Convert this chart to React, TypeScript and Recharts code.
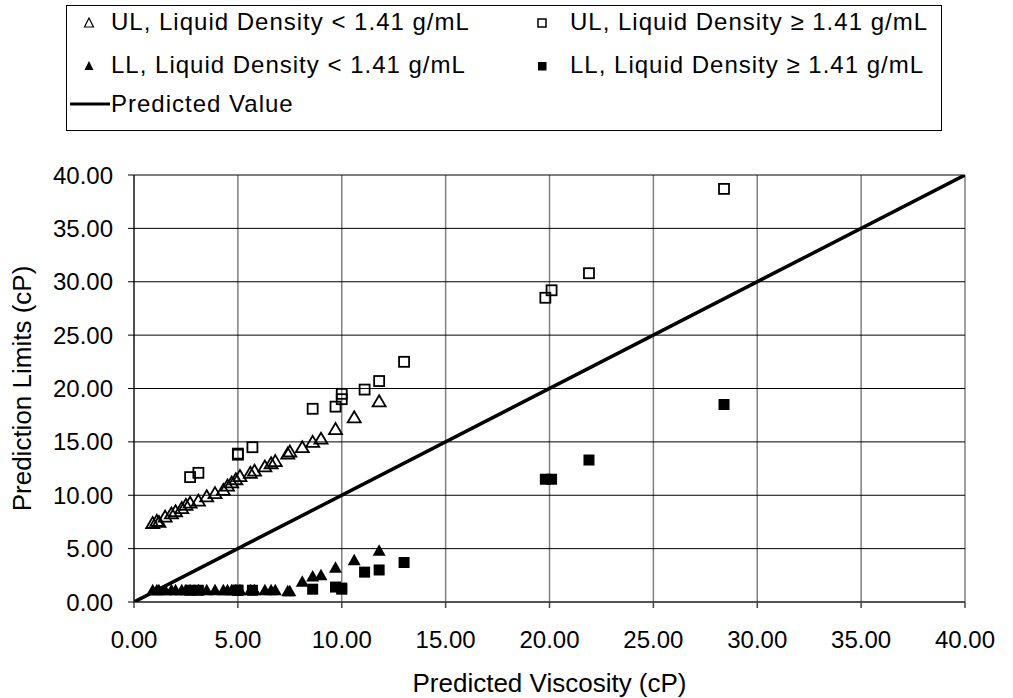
import React from "react";
import {
  ScatterChart,
  Scatter,
  XAxis,
  YAxis,
  CartesianGrid,
} from "recharts";

// density < 1.41 g/mL (triangles)
const LOW_X = [
  0.9, 1.1, 1.2, 1.5, 1.8, 2.0, 2.3, 2.5, 2.7, 3.1, 3.5, 3.9, 4.3, 4.5, 4.7,
  4.9, 5.1, 5.6, 5.8, 6.3, 6.6, 6.8, 7.4, 7.5, 8.1, 8.6, 9.0, 9.7, 10.6, 11.8,
];
const LOW_UL = [
  7.4, 7.6, 7.5, 8.0, 8.3, 8.5, 8.8, 9.1, 9.3, 9.5, 9.9, 10.2, 10.5, 10.9, 11.2,
  11.5, 11.8, 12.1, 12.3, 12.7, 13.0, 13.2, 13.9, 14.1, 14.5, 15.0, 15.3, 16.2,
  17.3, 18.8,
];
const LOW_LL = [
  1.1, 1.1, 1.1, 1.1, 1.1, 1.1, 1.1, 1.1, 1.1, 1.1, 1.1, 1.1, 1.1, 1.1, 1.1,
  1.1, 1.1, 1.1, 1.1, 1.1, 1.1, 1.1, 1.0, 1.0, 1.9, 2.4, 2.5, 3.2, 3.9, 4.8,
];

// density >= 1.41 g/mL (squares)
const HIGH_X = [
  2.7, 3.1, 5.0, 5.0, 5.7, 8.6, 9.7, 10.0, 10.0, 11.1, 11.8, 13.0, 19.8, 20.1,
  21.9, 28.4,
];
const HIGH_UL = [
  11.7, 12.1, 13.8, 13.9, 14.5, 18.1, 18.3, 19.5, 19.0, 19.9, 20.7, 22.5, 28.5,
  29.2, 30.8, 38.7,
];
const HIGH_LL = [
  1.1, 1.1, 1.1, 1.1, 1.1, 1.2, 1.4, 1.3, 1.2, 2.8, 3.0, 3.7, 11.5, 11.5, 13.3,
  18.5,
];

const PREDICTED = [0, 40];
const TICKS = [0, 5, 10, 15, 20, 25, 30, 35, 40];

const FONT = "'Liberation Sans', Arial, sans-serif";

const pts = (xs: number[], ys: number[]) => xs.map((x, i) => ({ x, y: ys[i] }));

function HollowTri(p: any) {
  const { cx, cy } = p;
  return (
    <path
      d={`M${cx},${cy - 6} L${cx + 6.5},${cy + 5} L${cx - 6.5},${cy + 5} Z`}
      fill="none"
      stroke="#000"
      strokeWidth={1.8}
    />
  );
}

function SolidTri(p: any) {
  const { cx, cy } = p;
  return (
    <path
      d={`M${cx},${cy - 6.5} L${cx + 6.5},${cy + 5} L${cx - 6.5},${cy + 5} Z`}
      fill="#000"
    />
  );
}

function HollowSq(p: any) {
  const { cx, cy } = p;
  return (
    <rect
      x={cx - 5}
      y={cy - 5}
      width={10}
      height={10}
      fill="none"
      stroke="#000"
      strokeWidth={1.8}
    />
  );
}

function SolidSq(p: any) {
  const { cx, cy } = p;
  return <rect x={cx - 5.5} y={cy - 5.5} width={11} height={11} fill="#000" />;
}

const NoDot = () => <g />;

function LegendBox() {
  const row: React.CSSProperties = {
    position: "absolute",
    fontSize: 24,
    lineHeight: "28px",
    letterSpacing: 1,
    whiteSpace: "nowrap",
  };
  return (
    <div
      style={{
        position: "absolute",
        left: 66,
        top: 5,
        width: 876,
        height: 126,
        border: "1px solid #000",
        boxSizing: "border-box",
        fontFamily: FONT,
        color: "#000",
      }}
    >
      <svg
        width={876}
        height={126}
        style={{ position: "absolute", left: 0, top: 0 }}
      >
        <path d="M22,12 L26.5,21 L17.5,21 Z" fill="none" stroke="#000" strokeWidth={1.2} />
        <rect x={471} y={13} width={8} height={8} fill="none" stroke="#000" strokeWidth={1.5} />
        <path d="M22,55 L26.5,64 L17.5,64 Z" fill="#000" />
        <rect x={471} y={56} width={8.5} height={8.5} fill="#000" />
        <line x1={3} y1={98} x2={43} y2={98} stroke="#000" strokeWidth={3} />
      </svg>
      <div style={{ ...row, left: 44, top: 2 }}>UL, Liquid Density &lt; 1.41 g/mL</div>
      <div style={{ ...row, left: 503, top: 2 }}>UL, Liquid Density ≥ 1.41 g/mL</div>
      <div style={{ ...row, left: 44, top: 45 }}>LL, Liquid Density &lt; 1.41 g/mL</div>
      <div style={{ ...row, left: 503, top: 45 }}>LL, Liquid Density ≥ 1.41 g/mL</div>
      <div style={{ ...row, left: 44, top: 84 }}>Predicted Value</div>
    </div>
  );
}

export default function App() {
  const tickStyle = { fontSize: 24, fill: "#000", fontFamily: FONT };
  return (
    <div
      style={{
        position: "absolute",
        left: 0,
        top: 0,
        width: 1013,
        height: 698,
        background: "#fff",
      }}
    >
      <ScatterChart
        width={1013}
        height={698}
        margin={{ top: 175, right: 48, bottom: 0, left: 0 }}
      >
        <CartesianGrid horizontal={false} stroke="#808080" strokeWidth={1.5} />
        <CartesianGrid vertical={false} stroke="#000" strokeWidth={1} />
        <XAxis
          type="number"
          dataKey="x"
          domain={[0, 40]}
          ticks={TICKS}
          tickFormatter={(v: number) => v.toFixed(2)}
          allowDataOverflow
          height={96}
          stroke="#444"
          strokeWidth={1.5}
          tick={tickStyle}
          tickSize={6}
          tickMargin={23}
          label={{
            value: "Predicted Viscosity (cP)",
            position: "insideBottom",
            offset: 6,
            style: { fontSize: 26, fill: "#000", fontFamily: FONT },
          }}
        />
        <YAxis
          type="number"
          dataKey="y"
          domain={[0, 40]}
          ticks={TICKS}
          tickFormatter={(v: number) => v.toFixed(2)}
          allowDataOverflow
          width={134}
          stroke="#000"
          tick={tickStyle}
          tickSize={6}
          tickMargin={15}
          label={{
            value: "Prediction Limits (cP)",
            angle: -90,
            position: "insideLeft",
            offset: 22,
            style: {
              fontSize: 26,
              fill: "#000",
              fontFamily: FONT,
              textAnchor: "middle",
            },
          }}
        />
        <Scatter
          data={pts(PREDICTED, PREDICTED)}
          line={{ stroke: "#000", strokeWidth: 3.5 }}
          shape={NoDot}
          isAnimationActive={false}
        />
        <Scatter data={pts(LOW_X, LOW_UL)} shape={HollowTri} isAnimationActive={false} />
        <Scatter data={pts(HIGH_X, HIGH_UL)} shape={HollowSq} isAnimationActive={false} />
        <Scatter data={pts(LOW_X, LOW_LL)} shape={SolidTri} isAnimationActive={false} />
        <Scatter data={pts(HIGH_X, HIGH_LL)} shape={SolidSq} isAnimationActive={false} />
      </ScatterChart>
      <LegendBox />
    </div>
  );
}
